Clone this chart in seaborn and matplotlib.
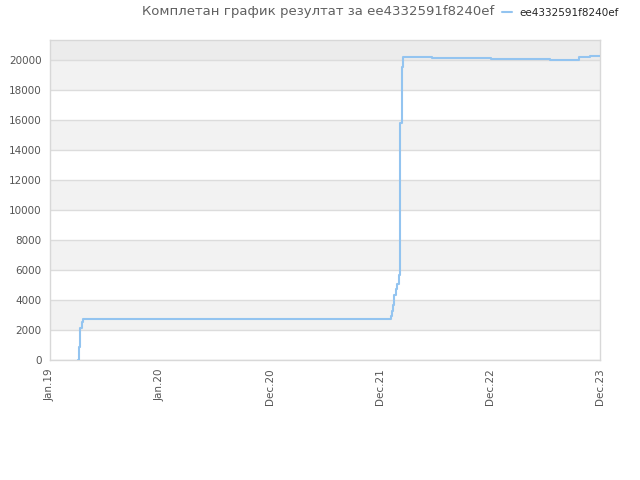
import pandas as pd
import matplotlib.pyplot as plt
import seaborn as sns

# Podaci
datumi = ['2019-04-05', '2019-04-08', '2019-04-10', '2019-04-16', '2019-04-21',
          '2022-02-04', '2022-02-08', '2022-02-13', '2022-02-17', '2022-02-22',
          '2022-02-26', '2022-03-03', '2022-03-06', '2022-03-07', '2022-03-09',
          '2022-03-13', '2022-03-17', '2022-06-23', '2023-01-03', '2023-07-18',
          '2023-10-21', '2023-11-28', '2023-12-31']
rezultat = [0, 870, 2130, 2530, 2750,
            2930, 3280, 3660, 4320, 4720,
            5050, 5650, 5870, 11770, 15760,
            19490, 20170, 20100, 20040, 19970,
            20170, 20240, 20240]
tick_datumi = ['2019-01-01', '2020-01-01', '2020-12-31', '2021-12-31', '2022-12-31', '2023-12-31']
tick_labele = ['Jan.19', 'Jan.20', 'Dec.20', 'Dec.21', 'Dec.22', 'Dec.23']
y_tickovi = [0, 2000, 4000, 6000, 8000, 10000, 12000, 14000, 16000, 18000, 20000]
igrac = 'ee4332591f8240ef'

df = pd.DataFrame({'Datum': pd.to_datetime(datumi), 'Rezultat': rezultat})

sns.set_style('white')
fig = plt.figure(figsize=(6.4, 4.8), dpi=100)
ax = fig.add_axes([50/640, 120/480, 550/640, 320/480])

ymax = 21300
# trake u pozadini
for i, t in enumerate(y_tickovi[:-1]):
    if i % 2 == 1:
        ax.axhspan(t, t + 2000, color='#f2f2f2', zorder=0, lw=0)
ax.axhspan(20000, ymax, color='#ececec', zorder=0, lw=0)
for t in y_tickovi:
    ax.axhline(t, color='#dcdcdc', lw=1, zorder=1)

sns.lineplot(data=df, x='Datum', y='Rezultat', ax=ax, drawstyle='steps-post',
             color='#93c4f0', lw=1.5, label=igrac, zorder=3)

ax.set_xlim(pd.Timestamp(tick_datumi[0]), pd.Timestamp(tick_datumi[-1]))
ax.set_ylim(0, ymax)
ax.set_xticks(pd.to_datetime(tick_datumi))
ax.set_xticklabels(tick_labele, rotation=90, fontsize=7.5, color='#555555')
ax.set_yticks(y_tickovi)
ax.set_yticklabels([str(v) for v in y_tickovi], fontsize=7.5, color='#555555')
ax.tick_params(length=0, pad=6)
ax.set_xlabel('')
ax.set_ylabel('')
for s in ax.spines.values():
    s.set_color('#d8d8d8')
    s.set_linewidth(1)

fig.text(318/640, 1 - 12/480, 'Комплетан график резултат за ' + igrac,
         ha='center', va='center', fontsize=9.5, color='#606060')
ax.legend(loc='center left', bbox_to_anchor=(498/640, 1 - 13/480),
          bbox_transform=fig.transFigure, frameon=False, fontsize=7.5,
          handlelength=0.9, handletextpad=0.8, borderaxespad=0)

fig.savefig('out.png', dpi=100)
